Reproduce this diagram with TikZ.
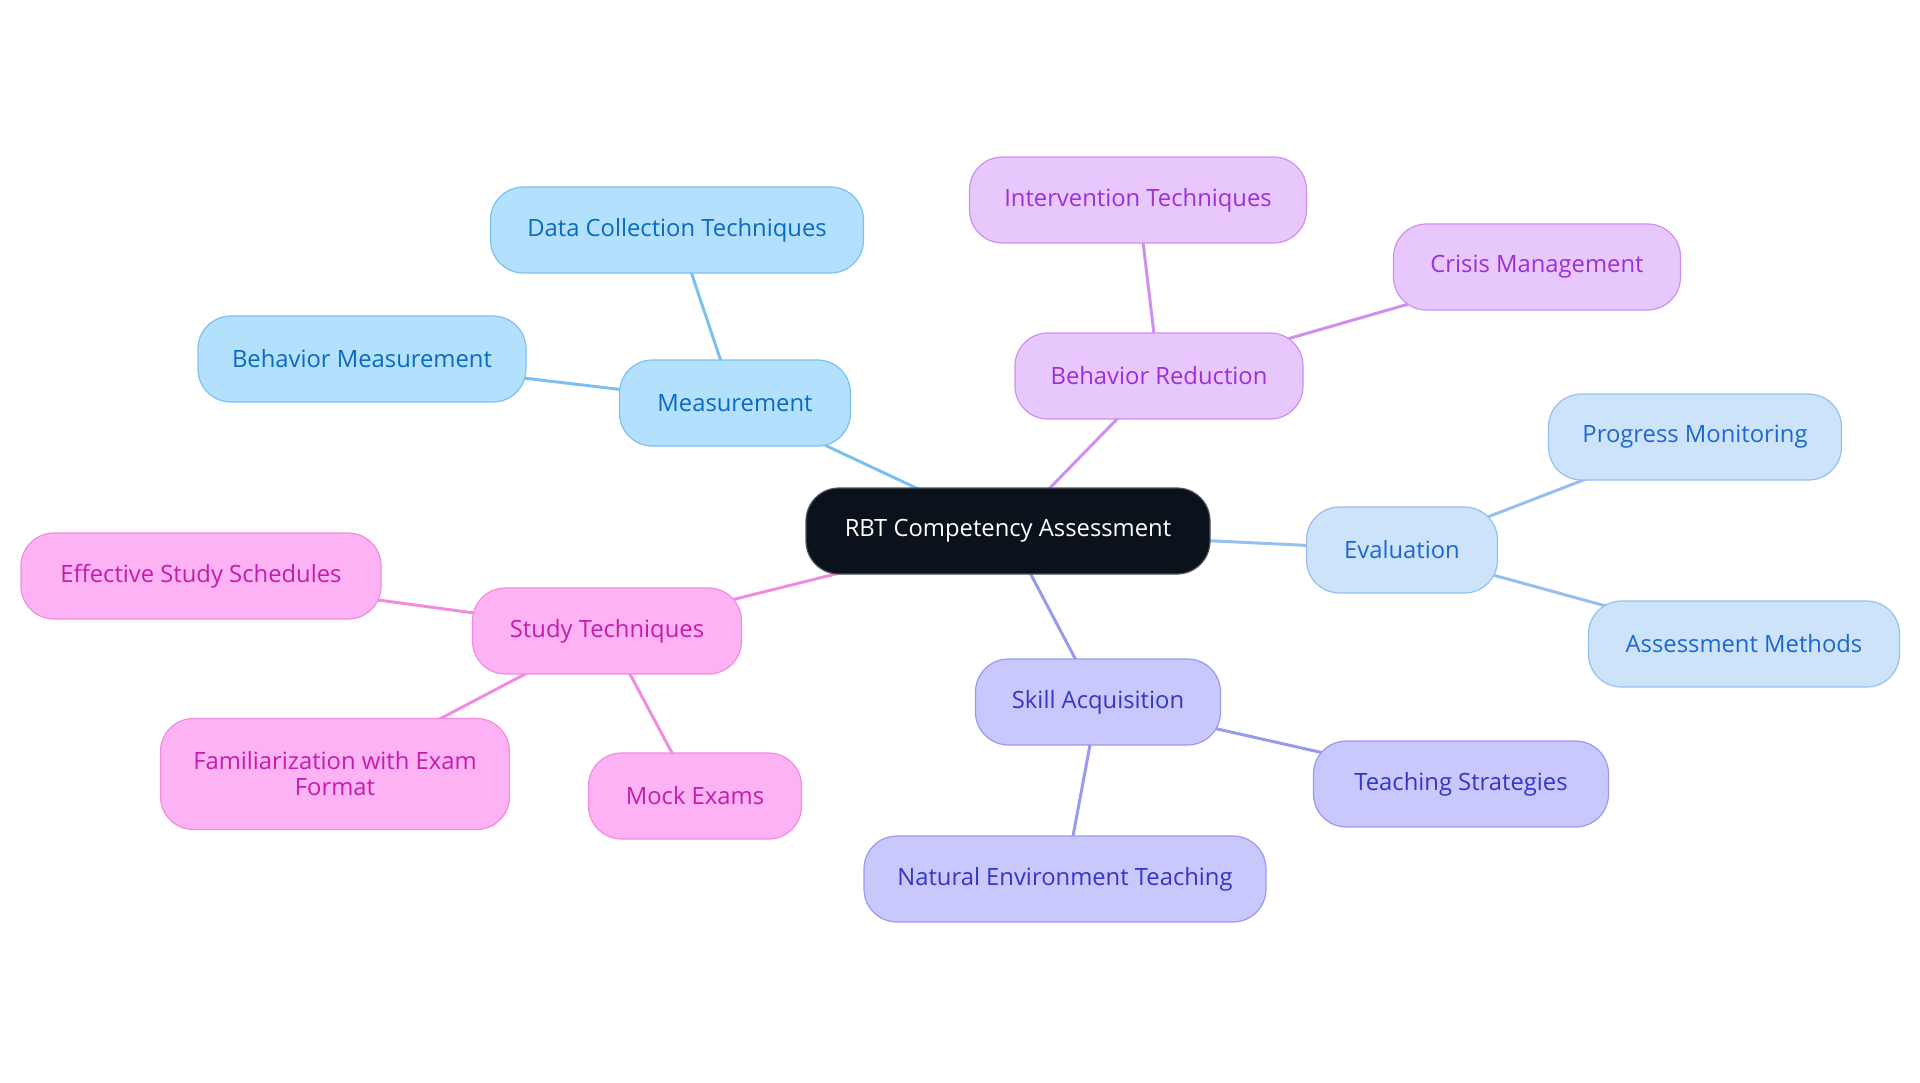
\documentclass[tikz,border=0pt]{standalone}
\usepackage{fontspec}
\setmainfont{Open Sans}
\usetikzlibrary{backgrounds}

\definecolor{rootfill}{HTML}{0C121C}
\definecolor{rootline}{HTML}{50555C}
\definecolor{measfill}{HTML}{B3E0FD}
\definecolor{measline}{HTML}{7CC0F0}
\definecolor{meastext}{HTML}{0A6ABF}
\definecolor{redfill}{HTML}{E8C8FC}
\definecolor{redline}{HTML}{CF8FEF}
\definecolor{redtext}{HTML}{9B30D9}
\definecolor{evalfill}{HTML}{CDE3FA}
\definecolor{evalline}{HTML}{93C0EE}
\definecolor{evaltext}{HTML}{1D68D0}
\definecolor{skillfill}{HTML}{C8C8FC}
\definecolor{skillline}{HTML}{9999F0}
\definecolor{skilltext}{HTML}{3535C8}
\definecolor{studyfill}{HTML}{FDB3F3}
\definecolor{studyline}{HTML}{F08CE0}
\definecolor{studytext}{HTML}{C41CAE}

\begin{document}
\begin{tikzpicture}[x=1pt,y=-1pt]
                \tikzstyle{pill}=[rectangle, rounded corners=33pt, minimum height=86pt, line width=1.2pt, inner sep=0pt, align=center, font=\fontsize{23.8}{26}\selectfont]
                \tikzstyle{rootpill}=[pill, fill=rootfill, draw=rootline, text=white]
                \tikzstyle{measpill}=[pill, fill=measfill, draw=measline, text=meastext]
                \tikzstyle{redpill}=[pill, fill=redfill, draw=redline, text=redtext]
                \tikzstyle{evalpill}=[pill, fill=evalfill, draw=evalline, text=evaltext]
                \tikzstyle{skillpill}=[pill, fill=skillfill, draw=skillline, text=skilltext]
                \tikzstyle{studypill}=[pill, fill=studyfill, draw=studyline, text=studytext]
                \tikzstyle{link}=[line width=3pt]
                
                \useasboundingbox (0,0) rectangle (1920,1083);
                
                \node[rootpill, minimum width=404pt] (rbt) at (1008,531) {RBT Competency Assessment};
                
                \node[measpill, minimum width=231pt] (meas) at (735,403) {Measurement};
                \node[measpill, minimum width=373pt] (datacoll) at (677,230) {Data Collection Techniques};
                \node[measpill, minimum width=328pt] (behmeas) at (362,359) {Behavior Measurement};
                
                \node[redpill, minimum width=288pt] (behred) at (1159,376) {Behavior Reduction};
                \node[redpill, minimum width=337pt] (interv) at (1138,200) {Intervention Techniques};
                \node[redpill, minimum width=287pt] (crisis) at (1537,267) {Crisis Management};
                
                \node[evalpill, minimum width=191pt] (eval) at (1402,550) {Evaluation};
                \node[evalpill, minimum width=293pt] (progress) at (1695,437) {Progress Monitoring};
                \node[evalpill, minimum width=311pt] (assess) at (1744,644) {Assessment Methods};
                
                \node[skillpill, minimum width=245pt] (skill) at (1098,702) {Skill Acquisition};
                \node[skillpill, minimum width=295pt] (teach) at (1461,784) {Teaching Strategies};
                \node[skillpill, minimum width=402pt] (natenv) at (1065,879) {Natural Environment Teaching};
                
                \node[studypill, minimum width=269pt] (study) at (607,631) {Study Techniques};
                \node[studypill, minimum width=360pt] (sched) at (201,576) {Effective Study Schedules};
                \node[studypill, minimum width=349pt, minimum height=111pt] (famil) at (335,774) {Familiarization with Exam\\Format};
                \node[studypill, minimum width=213pt] (mock) at (695,796) {Mock Exams};
                
                \begin{scope}[on background layer]
                \draw[link, measline] (rbt.center) -- (meas.center);
                \draw[link, measline] (meas.center) -- (datacoll.center);
                \draw[link, measline] (meas.center) -- (behmeas.center);
                \draw[link, redline] (rbt.center) -- (behred.center);
                \draw[link, redline] (behred.center) -- (interv.center);
                \draw[link, redline] (behred.center) -- (crisis.center);
                \draw[link, evalline] (rbt.center) -- (eval.center);
                \draw[link, evalline] (eval.center) -- (progress.center);
                \draw[link, evalline] (eval.center) -- (assess.center);
                \draw[link, skillline] (rbt.center) -- (skill.center);
                \draw[link, skillline] (skill.center) -- (teach.center);
                \draw[link, skillline] (skill.center) -- (natenv.center);
                \draw[link, studyline] (rbt.center) -- (study.center);
                \draw[link, studyline] (study.center) -- (sched.center);
                \draw[link, studyline] (study.center) -- (famil.center);
                \draw[link, studyline] (study.center) -- (mock.center);
                \end{scope}
                \end{tikzpicture}
\end{document}
